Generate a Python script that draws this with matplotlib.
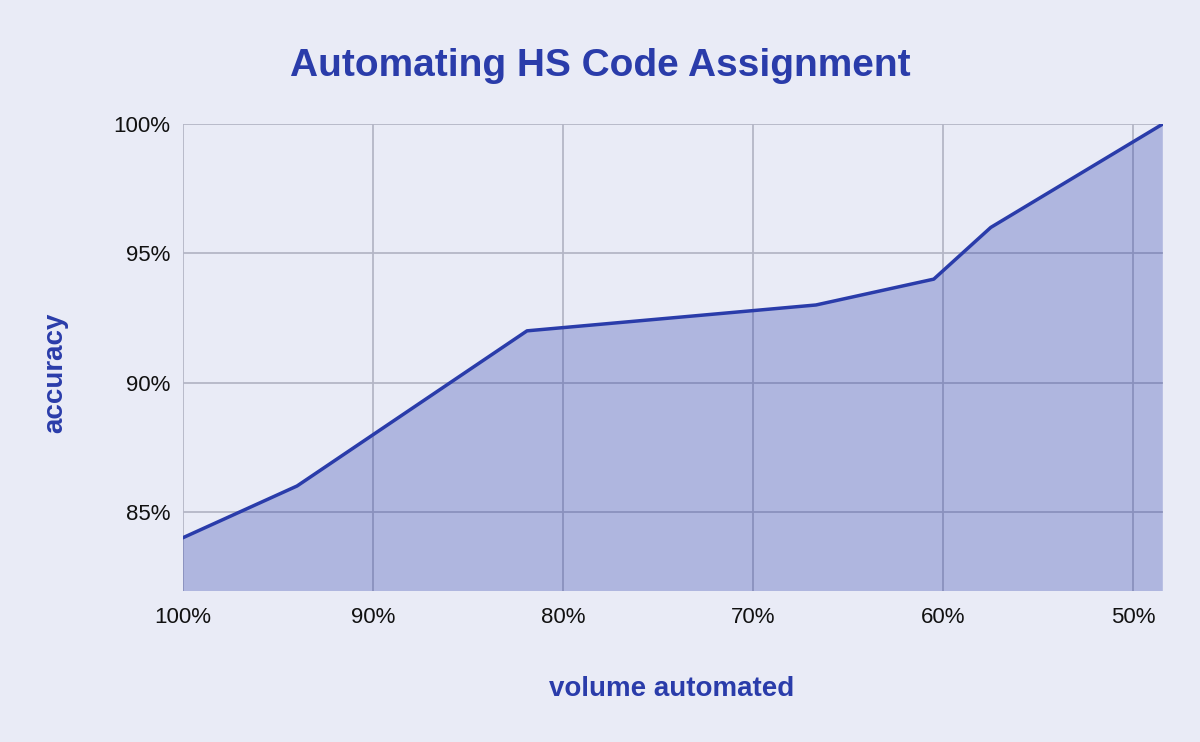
import matplotlib
matplotlib.use('Agg')
import matplotlib.pyplot as plt
import matplotlib.ticker as ticker

# Data
volume_automated = [100, 94, 81.9, 66.7, 60.5, 57.5, 48.45]
accuracy = [84, 86, 92, 93, 94, 96, 100]

x_ticks = [100, 90, 80, 70, 60, 50]
y_ticks = [85, 90, 95, 100]

BG = '#E9EBF6'
BLUE = '#2A3CAA'
GRID = '#B4B6C6'

plt.rcParams['font.family'] = ['Liberation Sans', 'DejaVu Sans']

fig = plt.figure(figsize=(12, 7.42), dpi=100, facecolor=BG)
ax = fig.add_axes([0.1525, 0.2039, 0.8165, 0.629])
ax.set_facecolor(BG)

ax.fill_between(volume_automated, accuracy, 0, color=BLUE, alpha=0.3,
                linewidth=0, zorder=3)
ax.plot(volume_automated, accuracy, color=BLUE, linewidth=2.5, zorder=4)

ax.set_xlim(100, 48.45)
ax.set_ylim(81.95, 100)
ax.set_xticks(x_ticks)
ax.set_yticks(y_ticks)
ax.xaxis.set_major_formatter(ticker.FuncFormatter(lambda v, p: f'{v:.0f}%'))
ax.yaxis.set_major_formatter(ticker.FuncFormatter(lambda v, p: f'{v:.0f}%'))
ax.tick_params(length=0, labelsize=16, labelcolor='#111111')
ax.tick_params(axis='x', pad=12)
ax.tick_params(axis='y', pad=9)

ax.grid(True, color=GRID, linewidth=1.3, zorder=1)
ax.set_axisbelow(True)
for s in ax.spines.values():
    s.set_visible(False)

fig.text(0.5, 0.911, 'Automating HS Code Assignment', ha='center', va='center',
         fontsize=28, fontweight='bold', color=BLUE)
fig.text(0.56, 0.071, 'volume automated', ha='center', va='center',
         fontsize=20, fontweight='bold', color=BLUE)
fig.text(0.046, 0.497, 'accuracy', ha='center', va='center', rotation=90,
         fontsize=20, fontweight='bold', color=BLUE)

fig.savefig('out.png', dpi=100, facecolor=BG)
